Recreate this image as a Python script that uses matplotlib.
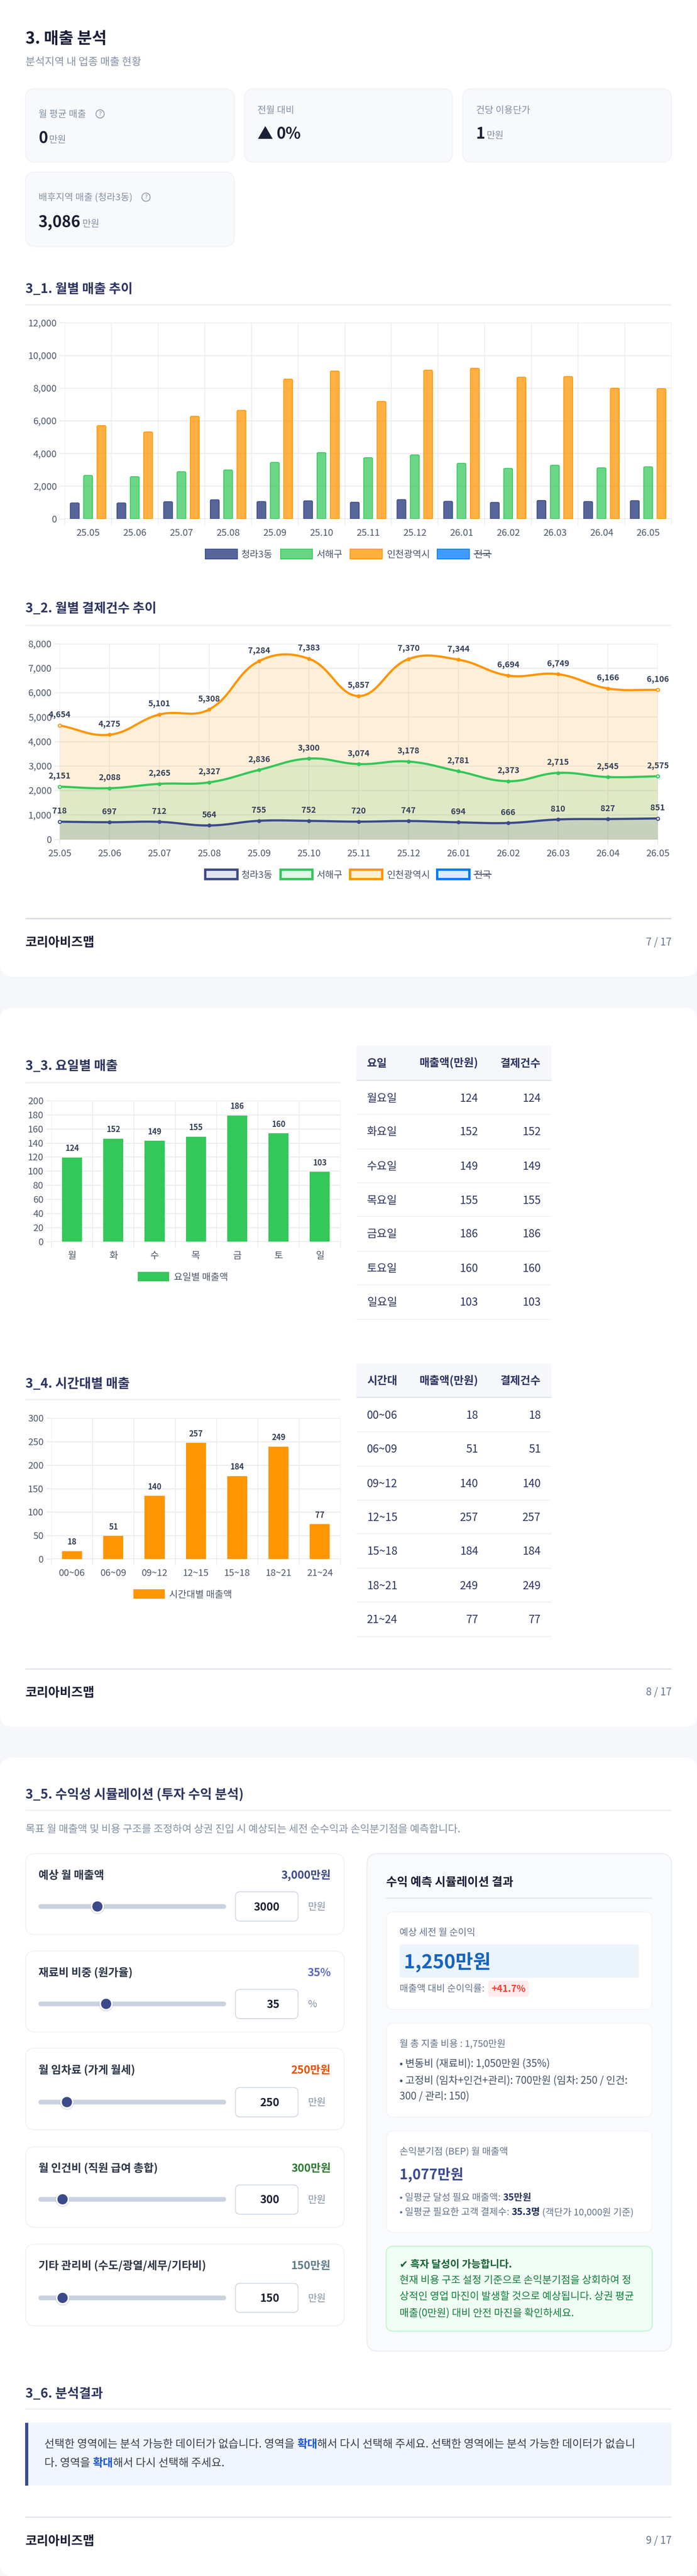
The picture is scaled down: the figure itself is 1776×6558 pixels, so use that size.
import matplotlib
matplotlib.use('Agg')
import matplotlib.pyplot as plt
import numpy as np
from matplotlib.colors import to_rgba
from matplotlib.patches import Circle, FancyBboxPatch, PathPatch, Rectangle
from matplotlib.path import Path

plt.rcParams['font.family'] = ['Noto Sans CJK KR', 'DejaVu Sans']

W, H = 1776, 6558
DPI = 100

# 3_1 / 3_2 monthly data
months = ['25.05', '25.06', '25.07', '25.08', '25.09', '25.10', '25.11', '25.12',
          '26.01', '26.02', '26.03', '26.04', '26.05']
regions = ['청라3동', '서해구', '인천광역시', '전국']
sales_dong = [966, 966, 1041, 1159, 1052, 1095, 1009, 1170, 1063, 998, 1116, 1052, 1105]
sales_gu = [2651, 2576, 2876, 2984, 3445, 4047, 3735, 3907, 3392, 3080, 3274, 3113, 3177]
sales_city = [5700, 5313, 6268, 6633, 8544, 9038, 7181, 9091, 9209, 8662, 8705, 7986, 7964]
count_dong = [718, 697, 712, 564, 755, 752, 720, 747, 694, 666, 810, 827, 851]
count_gu = [2151, 2088, 2265, 2327, 2836, 3300, 3074, 3178, 2781, 2373, 2715, 2545, 2575]
count_city = [4654, 4275, 5101, 5308, 7284, 7383, 5857, 7370, 7344, 6694, 6749, 6166, 6106]

# 3_3 weekday
days = ['월', '화', '수', '목', '금', '토', '일']
day_names = ['월요일', '화요일', '수요일', '목요일', '금요일', '토요일', '일요일']
day_bars = [119.4, 146, 143, 148.8, 178.9, 153.6, 98.9]
day_sales = [124, 152, 149, 155, 186, 160, 103]
day_counts = [124, 152, 149, 155, 186, 160, 103]

# 3_4 time band
hours = ['00~06', '06~09', '09~12', '12~15', '15~18', '18~21', '21~24']
hour_bars = [17, 49, 134.3, 247, 176.4, 239, 74]
hour_sales = [18, 51, 140, 257, 184, 249, 77]
hour_counts = [18, 51, 140, 257, 184, 249, 77]

# 3_5 sliders
slider_labels = ['예상 월 매출액', '재료비 비중 (원가율)', '월 임차료 (가게 월세)',
                 '월 인건비 (직원 급여 총합)', '기타 관리비 (수도/광열/세무/기타비)']
slider_values = [3000, 35, 250, 300, 150]
slider_max = [10000, 100, 2000, 3000, 1500]
slider_shown = ['3,000만원', '35%', '250만원', '300만원', '150만원']
slider_units = ['만원', '%', '만원', '만원', '만원']

NAVY = '#3b4a8a'
GREEN = '#34c759'
ORANGE = '#ff9500'
BLUE = '#007aff'
GRID = '#ebecef'
GRID_V = '#e4e6ea'
TICK_TXT = '#4d586b'
MUTED = '#8492a6'

fig = plt.figure(figsize=(W / DPI, H / DPI), dpi=DPI, facecolor='#f5f7fb')
bg = fig.add_axes([0, 0, 1, 1])
bg.set_xlim(0, W)
bg.set_ylim(H, 0)
bg.axis('off')


def pt(px):
    return px * 72 / DPI


def txt(x, yc, s, px, color='#1a1f36', weight='normal', ha='left', **kw):
    # yc is the visual centre of the hangul, so sit the baseline under it
    return bg.text(x, yc + 0.36 * px, s, fontsize=pt(px), color=color, fontweight=weight,
                   ha=ha, va='baseline', **kw)


def runs(x, yc, parts, px):
    # several styles on one line
    r = fig.canvas.get_renderer()
    for s, color, weight in parts:
        txt(x, yc, s, px, color, weight)
        probe = txt(0, 0, s.replace(' ', '\u00a0'), px, color, weight)
        x += probe.get_window_extent(r).width
        probe.remove()
    return x


def box(x0, y0, x1, y1, r, fc, ec='none', lw=0, z=1):
    p = FancyBboxPatch((x0 + r, y0 + r), x1 - x0 - 2 * r, y1 - y0 - 2 * r,
                       boxstyle=f'round,pad={r},rounding_size={r}', fc=fc, ec=ec,
                       lw=pt(lw), zorder=z)
    bg.add_patch(p)
    return p


def rule(x0, x1, y, h, color):
    bg.add_patch(Rectangle((x0, y - h / 2), x1 - x0, h, fc=color, ec='none', zorder=2))


def section(y, rule_y, s, x1=1711):
    txt(65, y, s, 33, '#2d3561', 'bold')
    rule(65, x1, rule_y, 4, '#f0f1f6')


def footer(rule_y, y, page):
    rule(65, 1711, rule_y, 2.5, '#d3d8e2')
    txt(65, y, '코리아비즈맵', 32, '#1a1f36', 'bold')
    txt(1711, y, page, 26, '#64748b', ha='right')


def make_axes(x0, y0, x1, y1):
    ax = fig.add_axes([x0 / W, 1 - y1 / H, (x1 - x0) / W, (y1 - y0) / H])
    ax.patch.set_alpha(0)
    for s in ax.spines.values():
        s.set_visible(False)
    return ax


def style_cat_axes(ax, labels, yticks, ymax, tick_px=16, pad_px=25):
    n = len(labels)
    ax.set_xlim(-0.5, n - 0.5)
    ax.set_ylim(0, ymax)
    ax.set_xticks(range(n))
    ax.set_xticklabels(labels, fontsize=pt(24), color=TICK_TXT)
    ax.tick_params(axis='x', which='major', length=0, pad=pt(pad_px))
    ax.set_xticks(np.arange(n + 1) - 0.5, minor=True)
    ax.tick_params(axis='x', which='minor', length=pt(tick_px), width=pt(1.5), color=GRID_V)
    ax.grid(True, axis='x', which='minor', color=GRID_V, lw=pt(1.5), zorder=0)
    style_y(ax, yticks)


def style_y(ax, yticks):
    ax.set_yticks(yticks)
    ax.set_yticklabels([f'{v:,}' for v in yticks], fontsize=pt(24), color=TICK_TXT)
    ax.tick_params(axis='y', length=pt(14), width=pt(2.5), color=GRID, pad=pt(6))
    ax.grid(True, axis='y', color=GRID, lw=pt(2.5), zorder=0)
    ax.axhline(0, color='#d8dae0', lw=pt(3), zorder=1.5)
    ax.set_axisbelow(True)


def round_bar(ax, xc, w, h, color, alpha, rx, ry):
    x0, x1 = xc - w / 2, xc + w / 2
    verts = [(x0, 0), (x0, h - ry), (x0, h), (x0 + rx, h), (x1 - rx, h), (x1, h), (x1, h - ry), (x1, 0), (x0, 0)]
    codes = [Path.MOVETO, Path.LINETO, Path.CURVE3, Path.CURVE3, Path.LINETO, Path.CURVE3, Path.CURVE3,
             Path.LINETO, Path.CLOSEPOLY]
    ax.add_patch(PathPatch(Path(verts, codes), fc=to_rgba(color, alpha), ec=color, lw=pt(2), zorder=3))


def spline(xs, ys, t=0.4, n=30):
    # same bezier spline the source chart uses, built in pixel space
    pts = np.column_stack([xs, ys]).astype(float)
    m = len(pts)
    c_prev, c_next = np.zeros((m, 2)), np.zeros((m, 2))
    for i in range(m):
        a, b, c = pts[max(i - 1, 0)], pts[i], pts[min(i + 1, m - 1)]
        d01, d12 = np.hypot(*(b - a)), np.hypot(*(c - b))
        s = d01 + d12
        c_prev[i] = b - t * (d01 / s) * (c - a)
        c_next[i] = b + t * (d12 / s) * (c - a)
    u = np.linspace(0, 1, n)[:, None]
    out = []
    for i in range(m - 1):
        p0, p1, p2, p3 = pts[i], c_next[i], c_prev[i + 1], pts[i + 1]
        out.append((1 - u) ** 3 * p0 + 3 * (1 - u) ** 2 * u * p1 + 3 * (1 - u) * u ** 2 * p2 + u ** 3 * p3)
    return np.vstack(out)


def legend_row(y, items, h, thick):
    for x0, x1, tx, s, color in items:
        if thick:
            fc = to_rgba(color, 0.15)
            lw = 6
        else:
            fc = to_rgba(color, 0.85 if color == NAVY else 0.75)
            lw = 2
        bg.add_patch(Rectangle((x0, y - h / 2), x1 - x0, h, fc=fc, ec=color, lw=pt(lw), joinstyle='miter', zorder=3))
        txt(tx, y, s, 24, TICK_TXT)
        if s == regions[3]:
            bg.plot([tx, tx + 44], [y, y], color=TICK_TXT, lw=pt(2), zorder=4)


# white pages
box(0, -40, W, 2486, 32, 'white')
box(0, 2566, W, 4396, 32, 'white')
box(0, 4475, W, 6558, 32, 'white')

# ---- header and KPI cards
txt(65, 96, '3. 매출 분석', 41, '#1a1f36', 'bold')
txt(65, 156, '분석지역 내 업종 매출 현황', 26.8, MUTED)

CARD_FC = '#f7f9fd'
CARD_EC = '#f1f2f6'
for x0, x1, y0, y1 in [(65, 597, 226, 413), (623, 1153, 226, 413), (1179, 1711, 226, 413), (65, 597, 438, 627)]:
    box(x0, y0, x1, y1, 24, CARD_FC, CARD_EC, 2.5)


def help_icon(x, y):
    bg.add_patch(Circle((x, y), 10.5, fc='none', ec=MUTED, lw=pt(2), zorder=3))
    bg.text(x, y + 0.5, '?', fontsize=pt(15), color=MUTED, ha='center', va='center', zorder=4)


txt(98, 289, '월 평균 매출', 24, MUTED)
help_icon(255, 290)
txt(98, 350, '0', 40, '#1a1f36', 'bold')
txt(125, 354, '만원', 24, MUTED)

txt(656, 279, '전월 대비', 24, MUTED)
txt(656, 339, '▲', 40, '#1a1f36', 'bold')
txt(704, 339, '0%', 40, '#1a1f36', 'bold')

txt(1213, 279, '건당 이용단가', 24, MUTED)
txt(1213, 339, '1', 40, '#1a1f36', 'bold')
txt(1240, 343, '만원', 24, MUTED)

txt(98, 501, '배후지역 매출 (청라3동)', 24, MUTED)
help_icon(372, 502)
txt(98, 564, '3,086', 40, '#1a1f36', 'bold')
txt(210, 568, '만원', 24, MUTED)

# ---- 3_1 bars
section(734, 776, '3_1. 월별 매출 추이')
ax1 = make_axes(165, 821.4, 1711, 1320.5)
style_cat_axes(ax1, months, [0, 2000, 4000, 6000, 8000, 10000, 12000], 12000)
rx = 3 / 119
ry = 3 / (499 / 12000)
for k, (vals, color, alpha) in enumerate([(sales_dong, NAVY, 0.85), (sales_gu, GREEN, 0.73), (sales_city, ORANGE, 0.74)]):
    for i, v in enumerate(vals):
        round_bar(ax1, i + (k - 1) * 0.286, 0.19, v, color, alpha, rx, ry)

legend_items = [(523, 605, 615, regions[0], NAVY), (715, 796, 807, regions[1], GREEN),
                (892, 974, 985, regions[2], ORANGE), (1114, 1196, 1208, regions[3], BLUE)]
legend_row(1410, legend_items, 25, False)

# ---- 3_2 lines
section(1547, 1591.5, '3_2. 월별 결제건수 추이')
ax2 = make_axes(152, 1638.5, 1676, 2136.6)
ax2.set_xlim(0, 12)
ax2.set_ylim(0, 8000)
ax2.set_xticks(range(13))
ax2.set_xticklabels(months, fontsize=pt(24), color=TICK_TXT)
ax2.tick_params(axis='x', length=pt(13), width=pt(2), color=GRID_V, pad=pt(12))
ax2.grid(True, axis='x', color=GRID_V, lw=pt(1.5), zorder=0)
style_y(ax2, list(range(0, 8001, 1000)))

sx = 1524 / 12
sy = 498.1 / 8000
xs = np.arange(13)
for vals, color in [(count_city, ORANGE), (count_gu, GREEN), (count_dong, NAVY)]:
    curve = spline(xs * sx, np.array(vals) * sy)
    cx, cy = curve[:, 0] / sx, curve[:, 1] / sy
    ax2.fill_between(cx, 0, cy, color=to_rgba(color, 0.15), lw=0, zorder=2)
    ax2.plot(cx, cy, color=color, lw=pt(5.5), zorder=4, solid_capstyle='butt')
    ax2.plot(xs[1:-1], vals[1:-1], 'o', color=color, ms=pt(10), mew=0, zorder=5, clip_on=False)
    # end points keep a pale centre in the source chart
    ax2.plot(xs[[0, -1]], [vals[0], vals[-1]], 'o', mfc='#f2f2ee', mec=color, ms=pt(8), mew=pt(2.5), zorder=5,
             clip_on=False)
    for i, v in enumerate(vals):
        ax2.annotate(f'{v:,}', (i, v), xytext=(0, 27), textcoords='offset pixels', ha='center', va='center',
                     fontsize=pt(21), fontweight='bold', color='#34405a', zorder=6, annotation_clip=False)

legend_row(2226, legend_items, 24, True)
footer(2338.6, 2397.5, '7 / 17')


# ---- 3_3 / 3_4 bars with tables
def cat_chart(box_px, labels, bars, shown, color, yticks, ymax):
    ax = make_axes(*box_px)
    style_cat_axes(ax, labels, yticks, ymax)
    ax.bar(range(len(bars)), bars, 0.486, color=color, zorder=3)
    for i, (b, s) in enumerate(zip(bars, shown)):
        ax.annotate(f'{s}', (i, b), xytext=(0, 23), textcoords='offset pixels', ha='center', va='center',
                    fontsize=pt(20), fontweight='bold', color='#34405a', zorder=6)
    return ax


def table(head, y0, y1, lines, rows_y, names, col2, col3):
    bg.add_patch(Rectangle((908, y0), 497, y1 - y0, fc='#f5f7fb', ec='none', zorder=2))
    rule(908, 1405, y1 + 1.5, 3.5, '#e2e7ee')
    hy = (y0 + y1) / 2
    txt(935, hy, head, 28, '#2d3561', 'bold')
    txt(1218.6, hy, '매출액(만원)', 28, '#2d3561', 'bold', ha='right')
    txt(1378, hy, '결제건수', 28, '#2d3561', 'bold', ha='right')
    for ly in lines:
        rule(908, 1405, ly, 2.5, '#f0f1f4')
    for ry_, n, a, b in zip(rows_y, names, col2, col3):
        txt(935, ry_, n, 28, '#2d3561')
        txt(1218.6, ry_, f'{a}', 28, '#2d3561', ha='right')
        txt(1378, ry_, f'{b}', 28, '#2d3561', ha='right')


section(2712, 2755.5, '3_3. 요일별 매출', 868)
cat_chart((131, 2802, 867.5, 3160.7), days, day_bars, day_sales, GREEN, list(range(0, 201, 20)), 200)
bg.add_patch(Rectangle((351, 3238), 80, 24, fc=GREEN, ec='none', zorder=3))
txt(443, 3250, '요일별 매출액', 24, TICK_TXT)
table('요일', 2662, 2749, [2837, 2925, 3011, 3097, 3185, 3271, 3359],
      [2794.5, 2880, 2968, 3054.5, 3140, 3228, 3314], day_names, day_sales, day_counts)

section(3521, 3563, '3_4. 시간대별 매출', 868)
cat_chart((131, 3610, 867.5, 3969), hours, hour_bars, hour_sales, ORANGE, list(range(0, 301, 50)), 300)
bg.add_patch(Rectangle((340, 4046), 80, 24, fc=ORANGE, ec='none', zorder=3))
txt(431, 4058, '시간대별 매출액', 24, TICK_TXT)
table('시간대', 3472, 3556, [3645, 3733, 3819, 3904.5, 3992.5, 4078.6, 4166.6],
      [3602, 3688, 3776, 3862, 3948, 4036, 4122], hours, hour_sales, hour_counts)
footer(4249, 4307, '8 / 17')

# ---- 3_5 simulator
section(4566, 4609, '3_5. 수익성 시뮬레이션 (투자 수익 분석)')
txt(65, 4655, '목표 월 매출액 및 비용 구조를 조정하여 상권 진입 시 예상되는 세전 순수익과 손익분기점을 예측합니다.', 26.4, MUTED)

card_rows = [(4719, 4925, 4773, 4853.5, 4816, 4891), (4967, 5173, 5021, 5101.5, 5064.5, 5139),
             (5214, 5422, 5269, 5351.5, 5314.5, 5389), (5465, 5670, 5519, 5599, 5562.5, 5637),
             (5713, 5921, 5767, 5850, 5813, 5887)]
value_colors = [NAVY, '#5c6bc0', '#e65100', '#2e7d32', '#607d8b']
for i, (y0, y1, ly, sy_, by0, by1) in enumerate(card_rows):
    box(65, y0, 877, y1, 24, 'white', '#f0f2f5', 2.5)
    txt(98, ly, slider_labels[i], 28, '#2d3748', 'bold')
    txt(843, ly, slider_shown[i], 28, value_colors[i], 'bold', ha='right')
    box(98, sy_ - 6, 576, sy_ + 6, 6, '#c9d3e0', z=2)
    tx = 115 + slider_values[i] / slider_max[i] * 444
    bg.add_patch(Circle((tx, sy_ + 1.5), 18, fc=(0, 0, 0, 0.12), ec='none', zorder=3))
    bg.add_patch(Circle((tx, sy_), 17, fc='white', ec='none', zorder=3))
    bg.add_patch(Circle((tx, sy_), 13, fc=NAVY, ec='none', zorder=4))
    box(600, by0, 759.5, by1, 12, 'white', '#cbd5e1', 2, z=3)
    txt(712, sy_, f'{slider_values[i]}', 28, '#1a2233', 'bold', ha='right', zorder=4)
    txt(785, sy_, slider_units[i], 25, MUTED)

# result panel
box(935, 4719, 1711, 5985.5, 28, '#f8fafc', '#e9edf3', 2.5)
txt(984, 4790, '수익 예측 시뮬레이션 결과', 30, '#1a1f36', 'bold')
rule(984, 1662, 4832.5, 2.5, '#e4e8ee')
for y0, y1 in [(4867, 5116), (5151, 5389.6), (5425, 5683)]:
    box(985, y0, 1661, y1, 18, 'white', '#f0f3f7', 2)

txt(1018, 4918, '예상 세전 월 순이익', 24, '#64748b')
box(1018, 4950, 1628, 5035, 6, '#ebf3fb', z=2)
txt(1028.5, 4993, '1,250만원', 49, '#1565c0', 'bold', zorder=4)
txt(1018, 5061.5, '매출액 대비 순이익률:', 24, '#64748b')
box(1244, 5042, 1347.5, 5083, 8, '#ffebee', z=2)
txt(1295.7, 5062, '+41.7%', 24, '#ff3b30', 'bold', ha='center', zorder=4)

txt(1018, 5202, '월 총 지출 비용 : 1,750만원', 24, '#64748b')
txt(1018, 5252.7, '• 변동비 (재료비): 1,050만원 (35%)', 26, '#475569')
txt(1018, 5295.7, '• 고정비 (임차+인건+관리): 700만원 (임차: 250 / 인건:', 26, '#475569')
txt(1018, 5335, '300 / 관리: 150)', 26, '#475569')

txt(1018, 5476.5, '손익분기점 (BEP) 월 매출액', 24, '#64748b')
txt(1018, 5535, '1,077만원', 36, NAVY, 'bold')
runs(1018, 5593, [('• 일평균 달성 필요 매출액: ', '#64748b', 'normal'), ('35만원', '#2d3561', 'bold')], 24)
runs(1018, 5630.6, [('• 일평균 필요한 고객 결제수: ', '#64748b', 'normal'), ('35.3명', '#1a2a5e', 'bold'),
                    (' (객단가 10,000원 기준)', '#64748b', 'normal')], 24)

box(984, 5718.5, 1662, 5934.6, 18, '#f0fdf4', '#bbf7d0', 2.5)
txt(1018, 5764, '✔ 흑자 달성이 가능합니다.', 26, '#166534', 'bold', zorder=4)
txt(1018, 5803.7, '현재 비용 구조 설정 기준으로 손익분기점을 상회하여 정', 26, '#15803d', zorder=4)
txt(1018, 5845, '상적인 영업 마진이 발생할 것으로 예상됩니다. 상권 평균', 26, '#15803d', zorder=4)
txt(1018, 5887, '매출(0만원) 대비 안전 마진을 확인하세요.', 26, '#15803d', zorder=4)

# ---- 3_6 text
section(6092, 6133.4, '3_6. 분석결과')
bg.add_patch(Rectangle((64, 6168), 1647, 159.6, fc='#f0f5ff', ec='none', zorder=2))
bg.add_patch(Rectangle((64, 6168), 8, 159.6, fc=NAVY, ec='none', zorder=3))
CALL = '#374151'
STRONG = '#1a56db'
runs(113, 6220.5, [('선택한 영역에는 분석 가능한 데이터가 없습니다. 영역을 ', CALL, 'normal'), ('확대', STRONG, 'bold'),
                   ('해서 다시 선택해 주세요. 선택한 영역에는 분석 가능한 데이터가 없습니', CALL, 'normal')], 28)
runs(113, 6269, [('다. 영역을 ', CALL, 'normal'), ('확대', STRONG, 'bold'), ('해서 다시 선택해 주세요.', CALL, 'normal')], 28)
footer(6408, 6467, '9 / 17')

fig.savefig('out.png', dpi=DPI, facecolor=fig.get_facecolor())
print('saved out.png')
